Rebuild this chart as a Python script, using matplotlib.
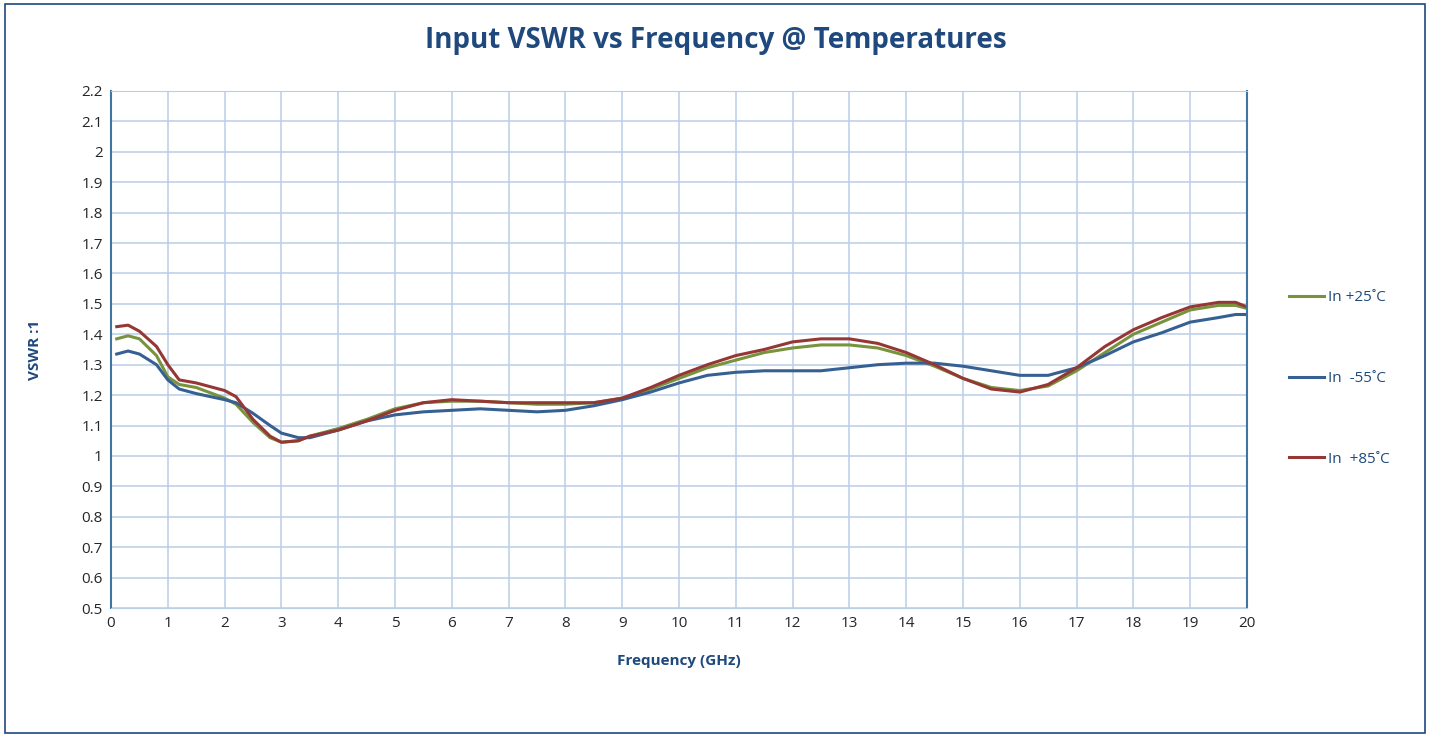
import matplotlib
matplotlib.use("Agg")
import matplotlib.pyplot as plt
from matplotlib.patches import Rectangle

# ── data ─────────────────────────────────────────────────────────────────────
freq = [0.1, 0.3, 0.5, 0.8, 1.0, 1.2, 1.5, 2.0, 2.2, 2.5, 2.8, 3.0, 3.3, 3.5,
        4.0, 4.5, 5.0, 5.5, 6.0, 6.5, 7.0, 7.5, 8.0, 8.5, 9.0, 9.5, 10.0,
        10.5, 11.0, 11.5, 12.0, 12.5, 13.0, 13.5, 14.0, 14.5, 15.0, 15.5,
        16.0, 16.5, 17.0, 17.5, 18.0, 18.5, 19.0, 19.5, 19.8, 20.0]

vswr_p25 = [1.385, 1.395, 1.385, 1.33, 1.26, 1.235, 1.225, 1.19, 1.17, 1.11,
            1.06, 1.045, 1.05, 1.065, 1.09, 1.12, 1.155, 1.175, 1.18, 1.18,
            1.175, 1.17, 1.17, 1.175, 1.19, 1.22, 1.255, 1.29, 1.315, 1.34,
            1.355, 1.365, 1.365, 1.355, 1.33, 1.295, 1.255, 1.225, 1.215,
            1.23, 1.28, 1.34, 1.40, 1.44, 1.48, 1.495, 1.495, 1.485]

vswr_m55 = [1.335, 1.345, 1.335, 1.30, 1.25, 1.22, 1.205, 1.185, 1.175, 1.14,
            1.10, 1.075, 1.06, 1.06, 1.085, 1.115, 1.135, 1.145, 1.15, 1.155,
            1.15, 1.145, 1.15, 1.165, 1.185, 1.21, 1.24, 1.265, 1.275, 1.28,
            1.28, 1.28, 1.29, 1.30, 1.305, 1.305, 1.295, 1.28, 1.265, 1.265,
            1.29, 1.33, 1.375, 1.405, 1.44, 1.455, 1.465, 1.465]

vswr_p85 = [1.425, 1.43, 1.41, 1.36, 1.30, 1.25, 1.24, 1.215, 1.195, 1.12,
            1.065, 1.045, 1.05, 1.065, 1.085, 1.115, 1.15, 1.175, 1.185, 1.18,
            1.175, 1.175, 1.175, 1.175, 1.19, 1.225, 1.265, 1.30, 1.33, 1.35,
            1.375, 1.385, 1.385, 1.37, 1.34, 1.30, 1.255, 1.22, 1.21, 1.235,
            1.29, 1.36, 1.415, 1.455, 1.49, 1.505, 1.505, 1.49]

labels = ["In +25˚C", "In  -55˚C", "In  +85˚C"]
colors = ["#77933C", "#376092", "#953735"]

# ── plot ─────────────────────────────────────────────────────────────────────
plt.rcParams["font.family"] = ["Open Sans", "DejaVu Sans"]
navy = "#1F497D"

fig = plt.figure(figsize=(14.31, 7.36), dpi=100)
ax = fig.add_axes([0.0776, 0.1739, 0.7938, 0.7025])

for y, lab, c in zip([vswr_p25, vswr_m55, vswr_p85], labels, colors):
    ax.plot(freq, y, color=c, linewidth=2.2, label=lab)

ax.set_xlim(0, 20)
ax.set_ylim(0.5, 2.2)
ax.set_xticks(range(0, 21))
ax.set_yticks([round(0.5 + 0.1 * i, 1) for i in range(18)])
ax.set_yticklabels([f"{0.5 + 0.1 * i:.1f}".rstrip("0").rstrip(".")
                    for i in range(18)])
ax.grid(True, color="#B9CDE5", linewidth=1.1)
ax.set_axisbelow(True)
ax.tick_params(length=0, labelsize=11, colors="#262626", pad=6)

for side in ["top", "bottom"]:
    ax.spines[side].set_color("#B9CDE5")
for side in ["left", "right"]:
    ax.spines[side].set_color("#3E75A3")
    ax.spines[side].set_linewidth(1.5)

ax.set_xlabel("Frequency (GHz)", fontsize=11, fontweight="bold", color=navy,
              labelpad=16)
ax.set_ylabel("VSWR :1", fontsize=11, fontweight="bold", color=navy,
              labelpad=28)

fig.suptitle("Input VSWR vs Frequency @ Temperatures", x=0.5, y=0.965,
             fontsize=20, fontweight="bold", color=navy)

leg = ax.legend(loc="center left", bbox_to_anchor=(1.025, 0.444),
                frameon=False, fontsize=11, labelspacing=4.3,
                handlelength=2.3, handletextpad=0.25)
for t in leg.get_texts():
    t.set_color(navy)

# outer frame
fig.patches.append(Rectangle((0.0035, 0.004), 0.9925, 0.99, fill=False,
                             edgecolor=navy, linewidth=1.2,
                             transform=fig.transFigure))

fig.savefig("out.png", dpi=100)
